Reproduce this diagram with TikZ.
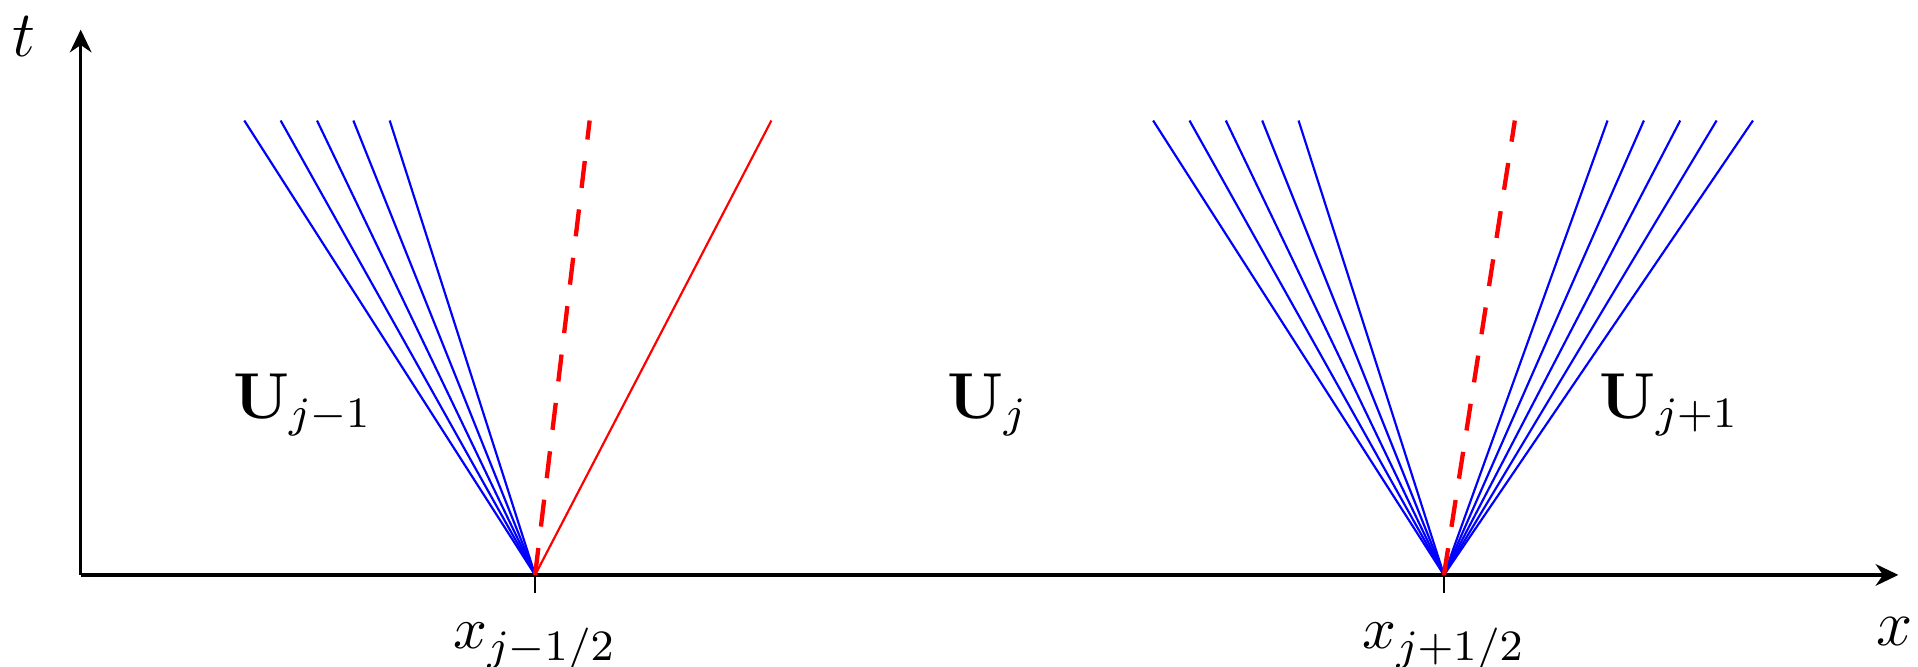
\documentclass[tikz,border=0pt]{standalone}
\usepackage{amsmath}
\usepackage{amssymb}
\usepackage{tikz}
\usetikzlibrary{arrows.meta, positioning}

\begin{document}
\begin{tikzpicture}[
  x=1.18cm, y=1.18cm,
  axis/.style={semithick, -{Stealth[length=4.2pt, width=4pt]}},
  wave/.style={blue, thin},
  shock/.style={red, thin},
  contact/.style={red, thick, dash pattern=on 5pt off 4pt},
  tick/.style={thin},
  state/.style={font=\large, anchor=base},
  axlabel/.style={font=\large},
  iflabel/.style={font=\fontsize{11}{13}\selectfont, below, yshift=-2pt},
]
  \def\T{2.5} % height of the fans
  \useasboundingbox (-0.444,-0.505) rectangle (10.108,3.163);

  % --- axes ---
  \coordinate (O) at (0,0);
  \draw[axis] (O) -- (10,0);
  \draw[axis] (O) -- (0,3);
  \node[axlabel] (tlab) at (-0.31,2.96) {$t$};
  \node[axlabel] (xlab) at (9.98,-0.31) {$x$};

  % --- interfaces ---
  \coordinate (L) at (2.5,0);
  \coordinate (R) at (7.5,0);
  \draw[tick] (L) -- ++(0,-0.1) node[iflabel] (xL) {$x_{j-1/2}$};
  \draw[tick] (R) -- ++(0,-0.1) node[iflabel] (xR) {$x_{j+1/2}$};

  % left interface: rarefaction, contact, shock
  \foreach \x in {0.9,1.1,...,1.75}
    \draw[wave] (L) -- (\x,\T);
  \draw[contact] (L) -- (2.8,\T);
  \draw[shock] (L) -- (3.8,\T);

  % right interface: two rarefactions and contact
  \foreach \x in {5.9,6.1,...,6.75}
    \draw[wave] (R) -- (\x,\T);
  \foreach \x in {8.4,8.6,...,9.25}
    \draw[wave] (R) -- (\x,\T);
  \draw[contact] (R) -- (7.89,\T);

  % cell states
  \node[state] (Um) at (1.22,0.863) {$\mathbf{U}_{j-1}$};
  \node[state] (U0) at (4.99,0.863) {$\mathbf{U}_{j}$};
  \node[state] (Up) at (8.74,0.863) {$\mathbf{U}_{j+1}$};

\end{tikzpicture}
\end{document}
